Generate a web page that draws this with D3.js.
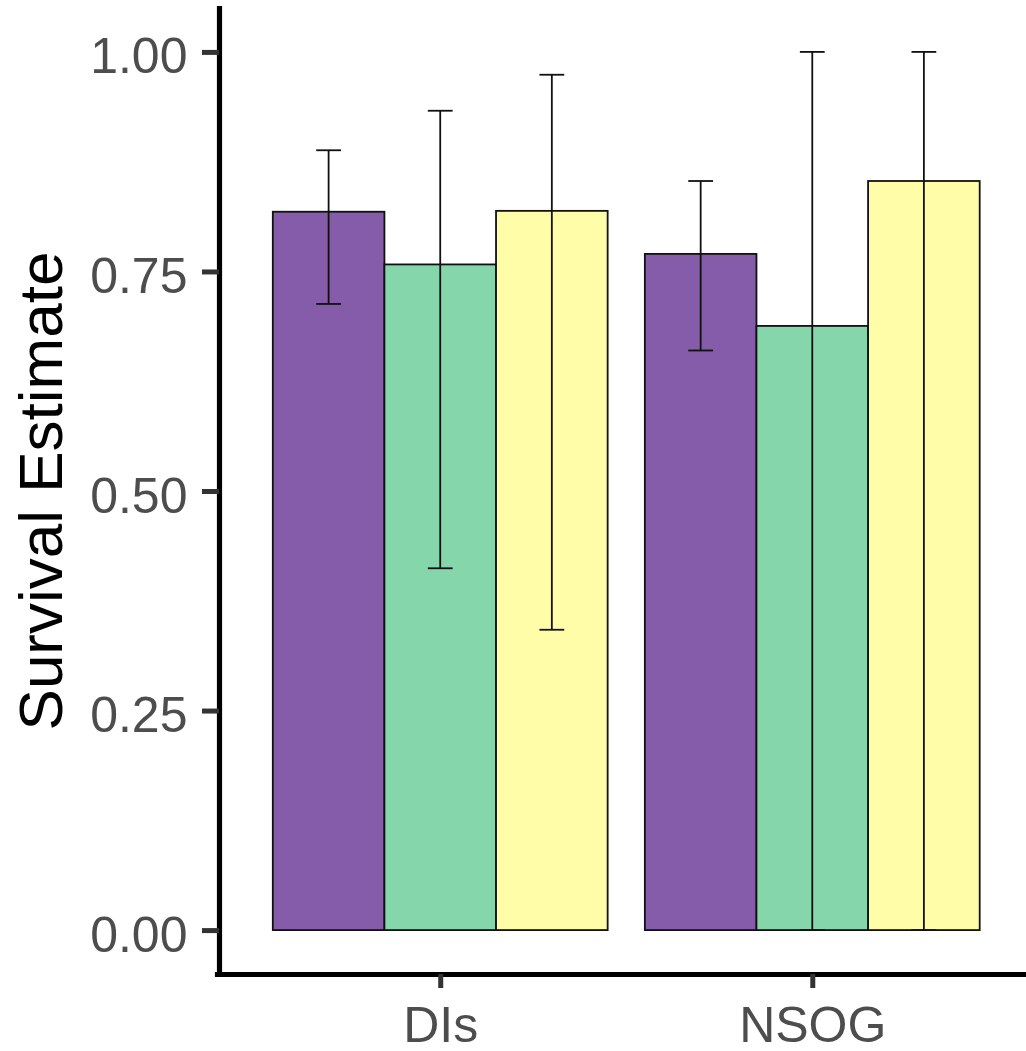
<!DOCTYPE html>
<html>
<head>
<meta charset="utf-8">
<script src="https://cdn.jsdelivr.net/npm/d3@7"></script>
<style>
  html, body { margin: 0; padding: 0; background: #fff; }
  svg { display: block; font-family: "Liberation Sans", Arial, sans-serif; }
</style>
</head>
<body>
<div id="chart"></div>
<script>
"use strict";

// Sites on the x axis and the three groups dodged within each site
const sites = ["DIs", "NSOG"];
const groups = ["group1", "group2", "group3"];

// Survival estimates, one row per site, one value per group
const estimate = [
  [0.818, 0.758, 0.819],
  [0.770, 0.688, 0.853]
];
const lower = [
  [0.713, 0.412, 0.342],
  [0.660, 0.000, 0.000]
];
const upper = [
  [0.888, 0.933, 0.974],
  [0.853, 1.000, 1.000]
];

const yTicks = [0, 0.25, 0.5, 0.75, 1];
const groupColors = ["#855CAA", "#86D6AC", "#FFFDA8"];

const width = 1026;
const height = 1051;
const panel = { left: 217, right: 1035.5, top: 8, bottom: 974 };

const svg = d3.select("#chart")
  .append("svg")
  .attr("width", width)
  .attr("height", height);

const x = d3.scalePoint()
  .domain(sites)
  .range([panel.left, panel.right])
  .padding(0.6);

// dodge width 0.9 of a category step
const dodge = d3.scaleBand()
  .domain(groups)
  .range([-0.45 * x.step(), 0.45 * x.step()]);

const y = d3.scaleLinear()
  .domain([-0.05, 1.05])
  .range([panel.bottom, panel.top]);

const color = d3.scaleOrdinal().domain(groups).range(groupColors);

const rows = [];
sites.forEach((s, i) => {
  groups.forEach((g, j) => {
    rows.push({
      site: s,
      group: g,
      value: estimate[i][j],
      lo: lower[i][j],
      hi: upper[i][j]
    });
  });
});

// Bars
svg.append("g")
  .selectAll("rect")
  .data(rows)
  .join("rect")
  .attr("x", (d) => x(d.site) + dodge(d.group))
  .attr("y", (d) => y(d.value))
  .attr("width", dodge.bandwidth())
  .attr("height", (d) => y(0) - y(d.value))
  .attr("fill", (d) => color(d.group))
  .attr("stroke", "#111")
  .attr("stroke-width", 1.8);

// Error bars
const capHalf = (0.2 / 3) * x.step() / 2;
const err = svg.append("g")
  .attr("stroke", "#111")
  .attr("stroke-width", 1.8)
  .attr("fill", "none");

const cx = (d) => x(d.site) + dodge(d.group) + dodge.bandwidth() / 2;

err.selectAll(".stem")
  .data(rows)
  .join("line")
  .attr("class", "stem")
  .attr("x1", cx)
  .attr("x2", cx)
  .attr("y1", (d) => y(d.lo))
  .attr("y2", (d) => y(d.hi));

err.selectAll(".cap-hi")
  .data(rows)
  .join("line")
  .attr("class", "cap-hi")
  .attr("x1", (d) => cx(d) - capHalf)
  .attr("x2", (d) => cx(d) + capHalf)
  .attr("y1", (d) => y(d.hi))
  .attr("y2", (d) => y(d.hi));

err.selectAll(".cap-lo")
  .data(rows)
  .join("line")
  .attr("class", "cap-lo")
  .attr("x1", (d) => cx(d) - capHalf)
  .attr("x2", (d) => cx(d) + capHalf)
  .attr("y1", (d) => y(d.lo))
  .attr("y2", (d) => y(d.lo));

// Y axis
const yAxis = d3.axisLeft(y)
  .tickValues(yTicks)
  .tickFormat(d3.format(".2f"))
  .tickSize(17)
  .tickSizeOuter(0)
  .tickPadding(14.5);

const yAxisGroup = svg.append("g")
  .attr("transform", `translate(${panel.left + 2},0)`)
  .call(yAxis);

// X axis
const xAxis = d3.axisBottom(x)
  .tickSize(14)
  .tickSizeOuter(0)
  .tickPadding(18);

const xAxisGroup = svg.append("g")
  .attr("transform", `translate(0,${panel.bottom})`)
  .call(xAxis);

[yAxisGroup, xAxisGroup].forEach((g) => {
  g.select(".domain")
    .attr("stroke", "#000")
    .attr("stroke-width", 5.2)
    .attr("stroke-linecap", "square");
  g.selectAll(".tick line")
    .attr("stroke", "#333")
    .attr("stroke-width", 5);
  g.selectAll(".tick text")
    .attr("fill", "#4d4d4d")
    .attr("font-family", "'Liberation Sans', Arial, sans-serif")
    .attr("font-size", 50);
});

// ggplot-like baseline placement for tick labels
yAxisGroup.selectAll(".tick text").attr("dy", "0.42em");
xAxisGroup.selectAll(".tick text").attr("dy", "0.71em").attr("y", 32);

// Y axis title
svg.append("text")
  .attr("transform", `translate(62,${(panel.top + panel.bottom) / 2}) rotate(-90)`)
  .attr("text-anchor", "middle")
  .attr("font-size", 62)
  .attr("fill", "#000")
  .text("Survival Estimate");
</script>
</body>
</html>
